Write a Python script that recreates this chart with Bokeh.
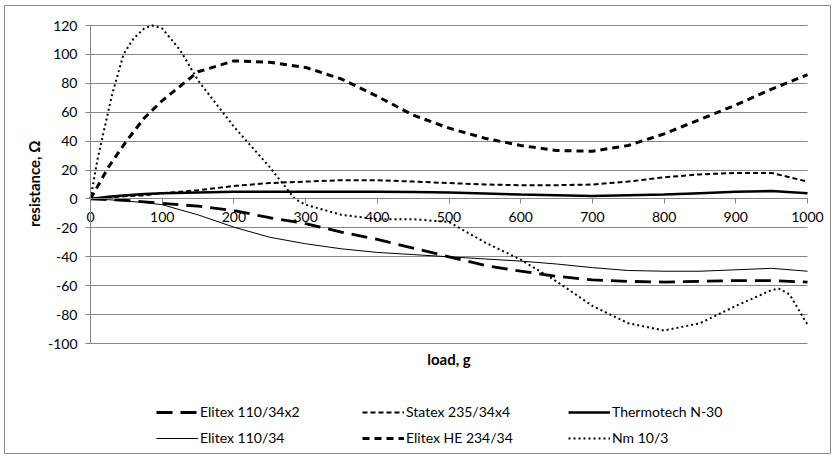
import math
from bokeh.plotting import figure
from bokeh.models import Range1d, Legend, LegendItem, Label, FixedTicker
from bokeh.embed import file_html
from bokeh.resources import INLINE

# ---- data ----
load = [0, 25, 50, 75, 100, 150, 200, 250, 300, 350, 400, 450, 500,
        550, 600, 650, 700, 750, 800, 850, 900, 950, 1000]

elitex_110_34x2 = [0, -0.5, -1, -2, -3, -5, -8, -13, -17, -23, -28, -34, -40,
                   -46, -50, -53.5, -56, -57, -57.5, -57, -56.5, -56.5, -57.5]
statex_235_34x4 = [0, 1, 2, 2.5, 4, 6, 9, 11, 12, 13, 13, 12, 11,
                   10, 9.5, 9.5, 10, 12, 15, 17, 18, 18, 12]
thermotech_n30 = [0, 1.5, 2.5, 3.5, 4, 4.5, 5, 5, 5, 5, 5, 4.8, 4.5,
                  3.8, 3, 2.5, 2, 2.5, 3, 4, 5, 5.5, 4]
elitex_110_34 = [0, -0.5, -1.5, -2.5, -4, -11, -19.5, -26.5, -31, -34.5, -37, -38.5, -40,
                 -41.5, -43, -45, -47.5, -49.5, -50, -50, -49, -48, -50]
elitex_he_234_34 = [0, 22, 40, 56, 68, 88, 95.5, 94.5, 91, 83, 71, 58, 49,
                    42, 37, 33.5, 33, 37, 45, 55, 65, 76, 86]

load_nm = [0, 10, 20, 30, 46, 60, 75, 86, 100, 125, 150, 175, 200, 250, 285, 300, 350,
           400, 450, 500, 550, 600, 650, 700, 750, 800, 850, 900, 950, 960, 975, 1000]
nm_10_3 = [0, 28, 50, 72, 100, 111, 118, 120, 118, 103, 82, 66, 50, 22, 0, -4, -11,
           -14, -14, -16, -30, -42, -57, -74, -86, -91, -86, -74, -63, -62, -66, -87]

x_ticks = [0, 100, 200, 300, 400, 500, 600, 700, 800, 900, 1000]
y_ticks = [-100, -80, -60, -40, -20, 0, 20, 40, 60, 80, 100, 120]

FONT = "Lato"
GRID = "#868686"
TXT = "#000000"

# ---- layout (page pixels) ----
W, H = 831, 454
FL, FT, FR, FB = 4, 5, 830, 453          # chart border / frame
DX0, DX1 = 90, 807                        # x = 0 .. 1000
DY_TOP, DY_BOT = 25, 343                  # y = 120 .. -100
sx = (DX1 - DX0) / 1000.0
sy = (DY_BOT - DY_TOP) / 220.0
x_start = -(DX0 - FL) / sx
x_end = 1000 + (FR - DX1) / sx
y_end = 120 + (DY_TOP - FT) / sy
y_start = -100 - (FB - DY_BOT) / sy

p = figure(width=W, height=H, x_range=Range1d(x_start, x_end), y_range=Range1d(y_start, y_end),
           output_backend="svg", toolbar_location=None,
           min_border_left=FL, min_border_right=W - FR, min_border_top=FT, min_border_bottom=H - FB)
p.outline_line_color = "#8a8a8a"
p.outline_line_width = 1
p.background_fill_color = "white"
p.border_fill_color = "white"

p.xgrid.visible = False
p.ygrid.ticker = FixedTicker(ticks=y_ticks)
p.ygrid.grid_line_color = GRID
p.ygrid.grid_line_width = 1
p.ygrid.cross_bounds = (0, 1000)

p.yaxis.ticker = FixedTicker(ticks=y_ticks)
p.xaxis.ticker = FixedTicker(ticks=x_ticks)
p.yaxis.major_label_overrides = {t: str(t) for t in y_ticks}
p.xaxis.fixed_location = 0
p.yaxis.fixed_location = 0
p.xaxis.bounds = (0, 1000)
p.yaxis.bounds = (-100, 120)
for ax in (p.xaxis[0], p.yaxis[0]):
    ax.axis_line_color = GRID
    ax.major_tick_line_color = GRID
    ax.minor_tick_line_color = None
    ax.major_tick_out = 5
    ax.major_tick_in = 0
    ax.major_label_text_font = FONT
    ax.major_label_text_font_size = "14px"
    ax.major_label_text_color = TXT
    ax.major_label_standoff = 8

# ---- series ----
r1 = p.line(load, elitex_110_34x2, line_color="black", line_width=2.8, line_dash="16 8")
r2 = p.line(load, statex_235_34x4, line_color="black", line_width=2, line_dash="5 3")
r3 = p.line(load, thermotech_n30, line_color="black", line_width=2.5)
r4 = p.line(load, elitex_110_34, line_color="black", line_width=1)
r5 = p.line(load, elitex_he_234_34, line_color="black", line_width=3, line_dash="7 5")
r6 = p.line(load_nm, nm_10_3, line_color="black", line_width=2, line_dash="2 3")

def make_legend(items, loc):
    lg = Legend(items=items, orientation="horizontal", location=loc,
                border_line_color=None, background_fill_alpha=0,
                padding=0, margin=0, spacing=12,
                glyph_width=42, glyph_height=16, label_height=16,
                label_width=150, label_standoff=2,
                label_text_font=FONT, label_text_font_size="14px",
                label_text_color=TXT)
    p.add_layout(lg)
    return lg

make_legend([LegendItem(label="Elitex 110/34x2", renderers=[r1]),
             LegendItem(label="Statex 235/34x4", renderers=[r2]),
             LegendItem(label="Thermotech N-30", renderers=[r3])], (152, FB - 420))
make_legend([LegendItem(label="Elitex 110/34", renderers=[r4]),
             LegendItem(label="Elitex HE 234/34", renderers=[r5]),
             LegendItem(label="Nm 10/3", renderers=[r6])], (152, FB - 446))

p.add_layout(Label(x=500, y=-111, text="load, g", text_font=FONT, text_font_size="15px",
                   text_font_style="bold", text_color=TXT, text_align="center",
                   text_baseline="middle"))
p.add_layout(Label(x=-79, y=10.5, text="resistance, \u03a9", angle=math.pi / 2,
                   text_font=FONT, text_font_size="15px", text_font_style="bold",
                   text_color=TXT, text_align="center", text_baseline="middle"))

open("out.html", "w").write(file_html(p, INLINE))
